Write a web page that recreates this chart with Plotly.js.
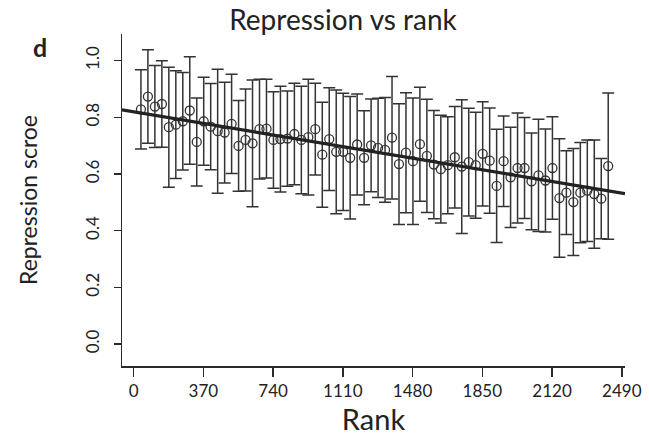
<!DOCTYPE html>
<html>
<head>
<meta charset="utf-8">
<script src="https://cdn.plot.ly/plotly-3.0.1.min.js"></script>
<style>html,body{margin:0;padding:0;background:#fff;}#chart{width:649px;height:441px;}</style>
</head>
<body>
<div id="chart"></div>
<script>
// Rank bin positions (x)
const rankPos = [39, 76, 113, 150, 187, 224, 261, 298, 335, 372,
  409, 446, 483, 520, 557, 594, 631, 668, 705, 742,
  779, 816, 853, 890, 927, 964, 1001, 1038, 1075, 1112,
  1149, 1186, 1223, 1260, 1297, 1334, 1371, 1408, 1445, 1482,
  1519, 1556, 1593, 1630, 1667, 1704, 1741, 1778, 1815, 1852,
  1889, 1926, 1963, 2000, 2037, 2074, 2111, 2148, 2185, 2222,
  2259, 2296, 2333, 2370, 2407, 2444, 2481, 2518];
// Mean repression score per bin
const meanScore = [0.828, 0.873, 0.838, 0.847, 0.765, 0.774, 0.786, 0.824, 0.713, 0.786,
  0.767, 0.751, 0.746, 0.777, 0.699, 0.720, 0.708, 0.758, 0.760, 0.720,
  0.723, 0.725, 0.741, 0.720, 0.730, 0.758, 0.668, 0.723, 0.678, 0.678,
  0.657, 0.704, 0.657, 0.701, 0.692, 0.685, 0.728, 0.635, 0.675, 0.645,
  0.705, 0.664, 0.633, 0.617, 0.631, 0.659, 0.626, 0.642, 0.631, 0.671,
  0.647, 0.558, 0.645, 0.588, 0.621, 0.621, 0.574, 0.595, 0.577, 0.621,
  0.515, 0.534, 0.501, 0.534, 0.541, 0.529, 0.513, 0.628];
// Error bar half-length (sd) per bin
const sdScore = [0.140, 0.165, 0.145, 0.153, 0.212, 0.190, 0.172, 0.190, 0.155, 0.155,
  0.152, 0.219, 0.178, 0.175, 0.160, 0.180, 0.224, 0.176, 0.174, 0.170,
  0.187, 0.168, 0.179, 0.190, 0.204, 0.162, 0.185, 0.181, 0.218, 0.207,
  0.216, 0.178, 0.166, 0.164, 0.175, 0.185, 0.216, 0.213, 0.212, 0.223,
  0.201, 0.200, 0.191, 0.190, 0.171, 0.179, 0.236, 0.190, 0.187, 0.184,
  0.186, 0.200, 0.160, 0.177, 0.194, 0.178, 0.171, 0.198, 0.182, 0.181,
  0.209, 0.148, 0.189, 0.177, 0.179, 0.191, 0.142, 0.258];
// Fitted trend line
const fitIntercept = 0.8192;
const fitSlope = -0.0001106;
// Axis ticks
const xTickVals = [0, 370, 740, 1110, 1480, 1850, 2220, 2590];
const xTickText = ["0", "370", "740", "1110", "1480", "1850", "2120", "2490"];
const yTickVals = [0.0, 0.2, 0.4, 0.6, 0.8, 1.0];
const yTickText = ["0.0", "0.2", "0.4", "0.6", "0.8", "1.0"];

const xRange = [-61.5, 2607];
const yRange = [-0.0777, 1.094];
const ink = '#2b2b2b';
const FONT = 'Lato, "Liberation Sans", sans-serif';

const traces = [
  {
    type: 'scatter', mode: 'markers',
    x: rankPos, y: meanScore,
    error_y: {type: 'data', array: sdScore, visible: true, color: '#333', thickness: 1.5, width: 6},
    marker: {symbol: 'circle-open', size: 9, color: '#333', line: {width: 1.3}},
    hoverinfo: 'x+y'
  },
  {
    type: 'scatter', mode: 'lines',
    x: [xRange[0], xRange[1]],
    y: [fitIntercept + fitSlope * xRange[0], fitIntercept + fitSlope * xRange[1]],
    line: {color: '#222', width: 3.2},
    hoverinfo: 'skip'
  }
];

const layout = {
  width: 649, height: 441,
  margin: {l: 122, r: 24, t: 34, b: 75, pad: 0},
  paper_bgcolor: '#fff', plot_bgcolor: '#fff',
  showlegend: false,
  font: {family: FONT, color: '#222'},
  title: {text: 'Repression vs rank', font: {family: FONT, size: 28, color: '#222'},
          x: 0.5285, xref: 'container', xanchor: 'center', y: 0.955, yref: 'container', yanchor: 'middle'},
  xaxis: {
    range: xRange, showgrid: false, zeroline: false,
    showline: true, linecolor: ink, linewidth: 1.5,
    ticks: 'outside', ticklen: 9, tickwidth: 1.5, tickcolor: ink,
    tickmode: 'array', tickvals: xTickVals, ticktext: xTickText,
    tickfont: {family: FONT, size: 17, color: '#222'},
    title: {text: 'Rank', font: {family: FONT, size: 29, color: '#222'}, standoff: 6},
    automargin: false
  },
  yaxis: {
    range: yRange, showgrid: false, zeroline: false,
    showline: true, linecolor: ink, linewidth: 1.5,
    ticks: 'outside', ticklen: 7, tickwidth: 1.5, tickcolor: ink,
    tickmode: 'array', tickvals: yTickVals, ticktext: yTickText, tickangle: -90,
    tickfont: {family: FONT, size: 17, color: '#222'},
    ticklabelstandoff: 8,
    title: {text: 'Repression scroe', font: {family: FONT, size: 23, color: '#222'}, standoff: 37},
    automargin: false
  },
  annotations: [
    {text: '<b>d</b>', xref: 'paper', yref: 'paper', x: -0.163, y: 0.961, xanchor: 'center', yanchor: 'middle',
     showarrow: false, font: {family: FONT, size: 25, color: '#222'}}
  ]
};

Plotly.newPlot('chart', traces, layout, {displayModeBar: false, staticPlot: true});
</script>
</body>
</html>
